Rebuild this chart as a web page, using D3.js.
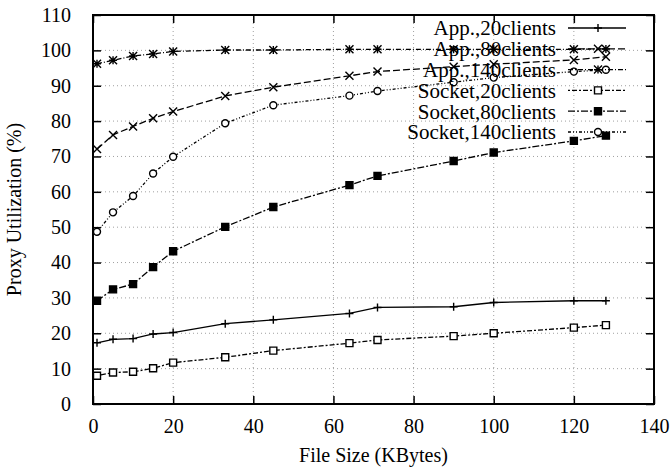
<!DOCTYPE html>
<html>
<head>
<meta charset="utf-8">
<script src="https://cdn.jsdelivr.net/npm/d3@7"></script>
<style>
  html, body { margin: 0; padding: 0; background: #fff; }
  svg { display: block; }
  text { font-family: "Liberation Serif", "Times New Roman", serif; fill: #000; }
</style>
</head>
<body>
<svg id="chart" width="671" height="470"></svg>
<script>
// File sizes (KBytes) at which proxy utilization was measured
const fileSizes = [1, 5, 10, 15, 20, 33, 45, 64, 71, 90, 100, 120, 128];

// Proxy utilization (%) per configuration
const app20 = [17.3, 18.3, 18.5, 19.8, 20.2, 22.7, 23.8, 25.6, 27.3, 27.5, 28.7, 29.2, 29.2];
const app80 = [72.1, 76.1, 78.5, 80.8, 82.7, 87.1, 89.6, 92.8, 94.0, 95.4, 96.1, 97.3, 98.2];
const app140 = [96.2, 97.2, 98.4, 99.0, 99.7, 100.1, 100.1, 100.3, 100.3, 100.3, 100.3, 100.3, 100.4];
const socket20 = [8.0, 8.9, 9.1, 10.1, 11.7, 13.2, 15.1, 17.2, 18.1, 19.2, 20.0, 21.6, 22.3];
const socket80 = [29.2, 32.4, 33.9, 38.7, 43.2, 50.1, 55.7, 61.9, 64.5, 68.7, 71.1, 74.4, 75.9];
const socket140 = [48.7, 54.2, 58.8, 65.2, 69.9, 79.4, 84.5, 87.2, 88.5, 91.0, 92.3, 94.0, 94.5];

const seriesNames = ["App.,20clients", "App.,80clients", "App.,140clients",
                     "Socket,20clients", "Socket,80clients", "Socket,140clients"];
const seriesValues = [app20, app80, app140, socket20, socket80, socket140];

const xTicks = [0, 20, 40, 60, 80, 100, 120, 140];
const yTicks = [0, 10, 20, 30, 40, 50, 60, 70, 80, 90, 100, 110];

// Line dash pattern and marker type for each series
const dashes = [null, "7,3", "5,2,1,2", "2,2,5,2", "7,2,2,2", "3,2,1,2,1,2"];
const markers = ["plus", "times", "star", "square", "squareFill", "circle"];

const svg = d3.select("#chart");
const plotL = 93, plotR = 654, plotT = 15, plotB = 404;

const x = d3.scaleLinear().domain([0, 140]).range([plotL, plotR]);
const y = d3.scaleLinear().domain([0, 110]).range([plotB, plotT]);

// Dotted grid
const grid = svg.append("g").attr("stroke", "#8a8a8a").attr("stroke-width", 1)
  .attr("stroke-dasharray", "1,3").attr("opacity", 0.8);
grid.selectAll(".gx").data(xTicks.slice(1, -1)).join("line")
  .attr("x1", d => x(d)).attr("x2", d => x(d)).attr("y1", plotT).attr("y2", plotB);
grid.selectAll(".gy").data(yTicks.slice(1, -1)).join("line")
  .attr("x1", plotL).attr("x2", plotR).attr("y1", d => y(d)).attr("y2", d => y(d));

// Axes with inward ticks on all four sides
const tickLen = 8;
function styleAxis(g) {
  g.select(".domain").remove();
  g.selectAll(".tick line").attr("stroke", "#000").attr("stroke-width", 1.5);
  g.selectAll(".tick text").attr("font-size", 20)
    .attr("font-family", "'Liberation Serif', 'Times New Roman', serif");
}
svg.append("g").attr("transform", `translate(0,${plotB})`)
  .call(d3.axisBottom(x).tickValues(xTicks).tickSizeInner(-tickLen).tickSizeOuter(0).tickPadding(15))
  .call(styleAxis);
svg.append("g").attr("transform", `translate(0,${plotT})`)
  .call(d3.axisTop(x).tickValues(xTicks).tickSizeInner(-tickLen).tickSizeOuter(0).tickFormat(""))
  .call(styleAxis);
svg.append("g").attr("transform", `translate(${plotL},0)`)
  .call(d3.axisLeft(y).tickValues(yTicks).tickSizeInner(-tickLen).tickSizeOuter(0).tickPadding(22))
  .call(styleAxis);
svg.append("g").attr("transform", `translate(${plotR},0)`)
  .call(d3.axisRight(y).tickValues(yTicks).tickSizeInner(-tickLen).tickSizeOuter(0).tickFormat(""))
  .call(styleAxis);

// Plot border
svg.append("rect").attr("x", plotL).attr("y", plotT)
  .attr("width", plotR - plotL).attr("height", plotB - plotT)
  .attr("fill", "none").attr("stroke", "#000").attr("stroke-width", 2);

// Axis titles
svg.append("text").attr("x", (plotL + plotR) / 2).attr("y", 462)
  .attr("text-anchor", "middle").attr("font-size", 20).text("File Size (KBytes)");
svg.append("text").attr("transform", `translate(21,${(plotT + plotB) / 2}) rotate(-90)`)
  .attr("text-anchor", "middle").attr("font-size", 20).text("Proxy Utilization (%)");

// Marker drawing
function drawMarker(g, type, cx, cy) {
  const s = 4;
  const path = (d, fill) => g.append("path").attr("d", d).attr("fill", fill || "none")
    .attr("stroke", "#000").attr("stroke-width", 1.4);
  if (type === "plus") {
    path(`M${cx - s},${cy}H${cx + s}M${cx},${cy - s}V${cy + s}`);
  } else if (type === "times") {
    path(`M${cx - s},${cy - s}L${cx + s},${cy + s}M${cx - s},${cy + s}L${cx + s},${cy - s}`);
  } else if (type === "star") {
    path(`M${cx - s},${cy}H${cx + s}M${cx},${cy - s}V${cy + s}` +
         `M${cx - s},${cy - s}L${cx + s},${cy + s}M${cx - s},${cy + s}L${cx + s},${cy - s}`);
  } else if (type === "square") {
    path(`M${cx - 3.5},${cy - 3.5}h7v7h-7Z`, "#fff");
  } else if (type === "squareFill") {
    path(`M${cx - 3.5},${cy - 3.5}h7v7h-7Z`, "#000");
  } else if (type === "circle") {
    path(`M${cx + 3.5},${cy}A3.5,3.5 0 1,1 ${cx - 3.5},${cy}A3.5,3.5 0 1,1 ${cx + 3.5},${cy}Z`, "#fff");
  }
}

// Series lines and markers
const line = d3.line().x(d => x(d[0])).y(d => y(d[1]));
seriesValues.forEach((vals, i) => {
  const pts = fileSizes.map((f, j) => [f, vals[j]]);
  const g = svg.append("g");
  g.append("path").attr("d", line(pts)).attr("fill", "none")
    .attr("stroke", "#000").attr("stroke-width", 1.3)
    .attr("stroke-dasharray", dashes[i]);
  pts.forEach(p => drawMarker(g, markers[i], x(p[0]), y(p[1])));
});

// Legend
const legendTextX = 556, sampleX1 = 568, sampleX2 = 626, sampleMid = 598;
seriesNames.forEach((name, i) => {
  const ly = 28 + i * 20.8;
  const g = svg.append("g");
  g.append("text").attr("x", legendTextX).attr("y", ly).attr("dy", "0.35em")
    .attr("text-anchor", "end").attr("font-size", 21).text(name);
  g.append("line").attr("x1", sampleX1).attr("x2", sampleX2).attr("y1", ly).attr("y2", ly)
    .attr("stroke", "#000").attr("stroke-width", 1.3).attr("stroke-dasharray", dashes[i]);
  drawMarker(g, markers[i], sampleMid, ly);
});
</script>
</body>
</html>
